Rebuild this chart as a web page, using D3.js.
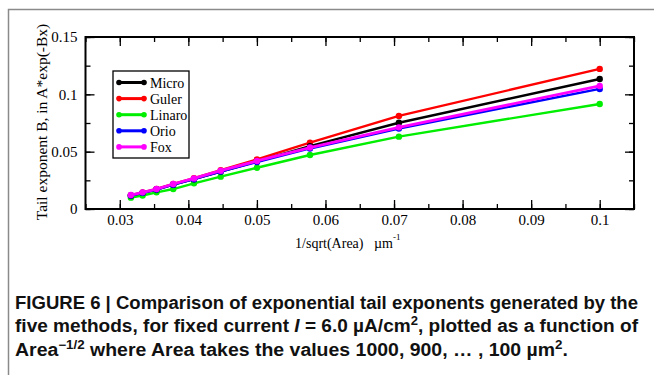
<!DOCTYPE html>
<html><head><meta charset="utf-8">
<script src="https://cdn.jsdelivr.net/npm/d3@7"></script>
<style>body{margin:0;background:#fff}svg{display:block}</style>
</head><body>
<script>
// x = 1/sqrt(Area) for Area = 1000, 900, ..., 100 µm²
const xValues = [0.03162, 0.03333, 0.03536, 0.03780, 0.04082, 0.04472, 0.05000, 0.05774, 0.07071, 0.10000];
const micro  = [0.0118, 0.0141, 0.0170, 0.0212, 0.0260, 0.0326, 0.0414, 0.0548, 0.0752, 0.1134];
const guler  = [0.0121, 0.0145, 0.0175, 0.0219, 0.0269, 0.0338, 0.0432, 0.0578, 0.0812, 0.1222];
const linaro = [0.0099, 0.0118, 0.0145, 0.0174, 0.0224, 0.0282, 0.0360, 0.0471, 0.0631, 0.0916];
const orio   = [0.0118, 0.0141, 0.0170, 0.0212, 0.0260, 0.0326, 0.0410, 0.0528, 0.0702, 0.1047];
const fox    = [0.0122, 0.0145, 0.0174, 0.0218, 0.0267, 0.0334, 0.0419, 0.0536, 0.0712, 0.1073];
const seriesNames = ["Micro", "Guler", "Linaro", "Orio", "Fox"];
const seriesColors = ["#000000", "#ff0000", "#00ee00", "#0000ff", "#ff00ff"];
const xTicks = [0.03, 0.04, 0.05, 0.06, 0.07, 0.08, 0.09, 0.1];
const xTickLabels = ["0.03", "0.04", "0.05", "0.06", "0.07", "0.08", "0.09", "0.1"];
const yTicks = [0, 0.05, 0.1, 0.15];
const yTickLabels = ["0", "0.05", "0.1", "0.15"];

const seriesValues = [micro, guler, linaro, orio, fox];
const W = 654, H = 375;
const svg = d3.select("body").append("svg").attr("width", W).attr("height", H);
svg.append("rect").attr("width", W).attr("height", H).attr("fill", "#fff");

// frame
svg.append("path").attr("d", "M8.5,375 L8.5,9.5 L654,9.5").attr("fill", "none")
  .attr("stroke", "#8a8a8a").attr("stroke-width", 1.5);

const L = 85.5, R = 634, T = 37, B = 209;
const x = d3.scaleLinear().domain([0.025, 0.105]).range([L, R]);
const y = d3.scaleLinear().domain([0, 0.15]).range([B, T]);
const serif = "'Liberation Serif','Times New Roman',serif";

const g = svg.append("g");
const minorX = d3.range(0.025, 0.1051, 0.005);
const minorY = d3.range(0, 0.1501, 0.025);

function axisLike(axisGen, transform) {
  const a = g.append("g").attr("transform", transform).call(axisGen);
  a.select(".domain").remove();
  a.selectAll("line").attr("stroke", "#000").attr("stroke-width", 1.3);
  a.attr("font-family", serif).attr("font-size", 15);
  return a;
}
// bottom major (inward) with labels
const ab = axisLike(d3.axisBottom(x).tickValues(xTicks).tickSizeInner(-9).tickSizeOuter(0)
  .tickFormat((d, i) => xTickLabels[i]).tickPadding(5), `translate(0,${B})`);
ab.selectAll("text").attr("fill", "#000");
axisLike(d3.axisBottom(x).tickValues(minorX).tickSizeInner(-5).tickSizeOuter(0).tickFormat(""), `translate(0,${B})`);
// top
axisLike(d3.axisTop(x).tickValues(xTicks).tickSizeInner(-9).tickSizeOuter(0).tickFormat(""), `translate(0,${T})`);
axisLike(d3.axisTop(x).tickValues(minorX).tickSizeInner(-5).tickSizeOuter(0).tickFormat(""), `translate(0,${T})`);
// left
const al = axisLike(d3.axisLeft(y).tickValues(yTicks).tickSizeInner(-9).tickSizeOuter(0)
  .tickFormat((d, i) => yTickLabels[i]).tickPadding(8), `translate(${L},0)`);
al.selectAll("text").attr("fill", "#000");
axisLike(d3.axisLeft(y).tickValues(minorY).tickSizeInner(-5).tickSizeOuter(0).tickFormat(""), `translate(${L},0)`);
// right
axisLike(d3.axisRight(y).tickValues(yTicks).tickSizeInner(-9).tickSizeOuter(0).tickFormat(""), `translate(${R},0)`);
axisLike(d3.axisRight(y).tickValues(minorY).tickSizeInner(-5).tickSizeOuter(0).tickFormat(""), `translate(${R},0)`);

g.append("rect").attr("x", L).attr("y", T).attr("width", R - L).attr("height", B - T)
  .attr("fill", "none").attr("stroke", "#000").attr("stroke-width", 2);

// axis titles
svg.append("text").attr("transform", `translate(47,${(T + B) / 2 - 1}) rotate(-90)`)
  .attr("text-anchor", "middle").attr("font-family", serif).attr("font-size", 15.5)
  .text("Tail exponent B, in A*exp(-Bx)");
const xt = svg.append("text").attr("x", (L + R) / 2 - 12).attr("y", 248).attr("text-anchor", "middle")
  .attr("font-family", serif).attr("font-size", 14);
xt.append("tspan").text("1/sqrt(Area)\u00a0\u00a0\u00a0\u00b5m");
xt.append("tspan").attr("dy", -8).attr("font-size", 9).text("-1");

// series
const line = d3.line().x((d, i) => x(xValues[i])).y(d => y(d));
const drawOrder = [2, 1, 0, 3, 4];
drawOrder.forEach(k => {
  const vals = seriesValues[k];
  g.append("path").datum(vals).attr("d", line).attr("fill", "none")
    .attr("stroke", seriesColors[k]).attr("stroke-width", k === 4 ? 2.8 : 2.4);
  g.selectAll(null).data(vals).enter().append("circle")
    .attr("cx", (d, i) => x(xValues[i])).attr("cy", d => y(d)).attr("r", 3.2)
    .attr("fill", seriesColors[k]);
});

// legend
const lg = svg.append("g");
lg.append("rect").attr("x", 113).attr("y", 71).attr("width", 76).attr("height", 87)
  .attr("fill", "#fff").attr("stroke", "#000").attr("stroke-width", 1.3);
seriesNames.forEach((n, i) => {
  const yy = 82.5 + i * 16.1;
  lg.append("line").attr("x1", 119).attr("x2", 144).attr("y1", yy).attr("y2", yy)
    .attr("stroke", seriesColors[i]).attr("stroke-width", 3);
  [119, 144].forEach(cx => lg.append("circle").attr("cx", cx).attr("cy", yy).attr("r", 2.8).attr("fill", seriesColors[i]));
  lg.append("text").attr("x", 150).attr("y", yy + 5).attr("font-family", serif).attr("font-size", 14).text(n);
});

// caption
const sans = "'Liberation Sans',Arial,Helvetica,sans-serif";
const cap = svg.append("g").attr("font-family", sans).attr("font-weight", "bold").attr("font-size", 17.5).attr("fill", "#111");
cap.append("text").attr("x", 15).attr("y", 309).attr("textLength", 623).attr("lengthAdjust", "spacingAndGlyphs")
  .text("FIGURE 6 | Comparison of exponential tail exponents generated by the");
const l2 = cap.append("text").attr("x", 15).attr("y", 332).attr("textLength", 623).attr("lengthAdjust", "spacingAndGlyphs");
l2.append("tspan").text("five methods, for fixed current ");
l2.append("tspan").attr("font-style", "italic").text("I");
l2.append("tspan").text(" = 6.0 \u00b5A/cm");
l2.append("tspan").attr("dy", -7).attr("font-size", 12).text("2");
l2.append("tspan").attr("dy", 7).text(", plotted as a function of");
const l3 = cap.append("text").attr("x", 15).attr("y", 356).attr("textLength", 553).attr("lengthAdjust", "spacingAndGlyphs");
l3.append("tspan").text("Area");
l3.append("tspan").attr("dy", -7).attr("font-size", 12).text("\u22121/2");
l3.append("tspan").attr("dy", 7).text(" where Area takes the values 1000, 900, \u2026 , 100 \u00b5m");
l3.append("tspan").attr("dy", -7).attr("font-size", 12).text("2");
l3.append("tspan").attr("dy", 7).text(".");
</script>
</body></html>
